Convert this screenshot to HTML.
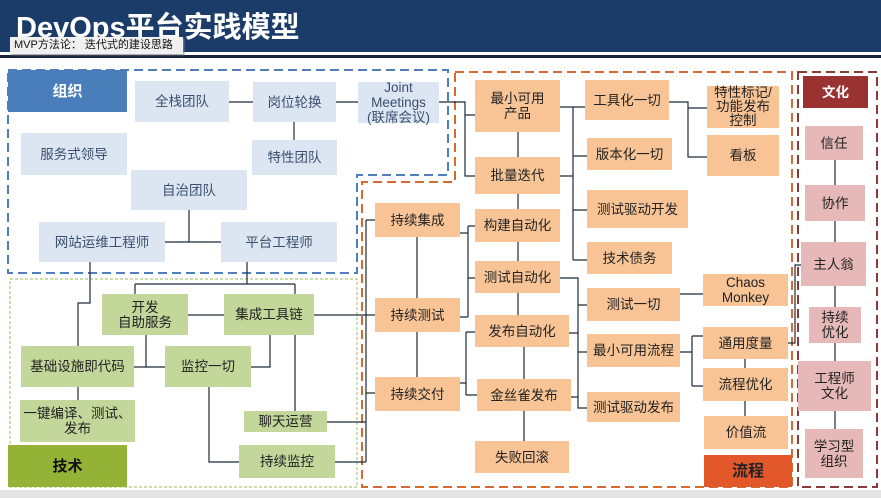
<!DOCTYPE html>
<html><head><meta charset="utf-8"><style>
*{margin:0;padding:0;box-sizing:border-box}
body{width:881px;height:498px;position:relative;background:#fff;overflow:hidden;font-family:"Liberation Sans","Noto Sans CJK SC",sans-serif}
.b{position:absolute;display:flex;align-items:center;justify-content:center;text-align:center;font-size:13.5px;line-height:15px;color:#222}
.o{background:#f8c496}.l{background:#dce6f2;color:#3a4f6e}.g{background:#c4d79b}.p{background:#e6b9b8}
svg{position:absolute;left:0;top:0}
</style></head><body>
<div style="position:absolute;left:0;top:0;width:881px;height:52px;background:#1b3b68"></div>
<div style="position:absolute;left:0;top:55px;width:881px;height:3px;background:#152238"></div>
<div style="position:absolute;left:16px;top:10px;color:#fff;font-size:29px;font-weight:bold;line-height:36px;white-space:nowrap">DevOps平台实践模型</div>
<div style="position:absolute;left:10px;top:37px;width:173px;height:17px;background:#f0f0f0;font-size:11px;line-height:17px;padding-left:4px;color:#111;box-shadow:1px 1px 2px #888">MVP方法论：&nbsp;迭代式的建设思路</div>
<div style="position:absolute;left:0;top:490px;width:881px;height:8px;background:#e4e4e4"></div>

<svg width="881" height="498">
<g fill="none" stroke-width="2" stroke-dasharray="9,5">
<path d="M8 70H448V175H357V273H8Z" stroke="#4f7fbd"/>
<path d="M455 72H792V487H362V182H455Z" stroke="#d66a2e"/>
<path d="M798 72H877V487H798Z" stroke="#8b3a3a"/>
</g>
<path d="M10 279H357V487H10Z" fill="none" stroke="#9bbb59" stroke-width="1" stroke-dasharray="3,2"/>
<g fill="none" stroke="#1f2a3a" stroke-width="1.2">
<path d="M229 102H253M336 102H358M294 122V140M189 210V242M165 242H221"/>
<path d="M439 102H465V176H475M465 115H475"/>
<path d="M518 132V157M518 194V209M518 242V261M518 293V315M524 347V379M524 411V441"/>
<path d="M417 237V298M417 332V377"/>
<path d="M460 233H468M468 226V317M468 226H475M468 278H475M460 317H468"/>
<path d="M460 383H466M466 332V395M466 332H475M466 395H477"/>
<path d="M560 107H585M573 107V260M560 176H573M573 156H587M573 210H587M573 260H587"/>
<path d="M669 102H688V157H707M688 108H707"/>
<path d="M560 278H578V408H587M578 305H587M578 352H587M569 333H578M571 397H578"/>
<path d="M680 294H703"/>
<path d="M680 352H692M692 336V386M692 336H703M692 386H703M745 359V368M745 401V416"/>
<path d="M788 343H795V265H801"/>
<path d="M835 160V185M835 221V242M835 286V307M835 343V361M835 411V429"/>
<path d="M90 262V303H78V346M78 387V400"/>
<path d="M247 262V284M135 284H295M135 284V294M295 284V294"/>
<path d="M188 315H224M314 315H375M146 335V367M134 367H165M270 335V367H251M295 335V411M209 387V462H239"/>
<path d="M327 422H366M335 462H366M366 220V462M366 220H375M366 393H375"/>
</g>
</svg>

<div class="b" style="left:8px;top:70px;width:119px;height:42px;background:#4a7ebb;color:#fff;font-weight:bold;font-size:15px">组织</div>
<div class="b l" style="left:135px;top:81px;width:94px;height:41px">全栈团队</div>
<div class="b l" style="left:253px;top:82px;width:83px;height:40px">岗位轮换</div>
<div class="b l" style="left:358px;top:82px;width:81px;height:41px">Joint<br>Meetings<br>(联席会议)</div>
<div class="b l" style="left:21px;top:133px;width:106px;height:42px">服务式领导</div>
<div class="b l" style="left:252px;top:140px;width:85px;height:35px">特性团队</div>
<div class="b l" style="left:131px;top:170px;width:116px;height:40px">自治团队</div>
<div class="b l" style="left:39px;top:222px;width:126px;height:40px">网站运维工程师</div>
<div class="b l" style="left:221px;top:222px;width:116px;height:40px">平台工程师</div>

<div class="b g" style="left:102px;top:294px;width:86px;height:41px">开发<br>自助服务</div>
<div class="b g" style="left:224px;top:294px;width:90px;height:41px">集成工具链</div>
<div class="b g" style="left:21px;top:346px;width:113px;height:41px">基础设施即代码</div>
<div class="b g" style="left:165px;top:346px;width:86px;height:41px">监控一切</div>
<div class="b g" style="left:20px;top:400px;width:115px;height:42px">一键编译、测试、<br>发布</div>
<div class="b g" style="left:244px;top:411px;width:83px;height:21px">聊天运营</div>
<div class="b g" style="left:239px;top:445px;width:96px;height:33px">持续监控</div>
<div class="b" style="left:8px;top:445px;width:119px;height:42px;background:#93b236;color:#111;font-weight:bold;font-size:15px">技术</div>

<div class="b o" style="left:375px;top:203px;width:85px;height:34px">持续集成</div>
<div class="b o" style="left:375px;top:298px;width:85px;height:34px">持续测试</div>
<div class="b o" style="left:375px;top:377px;width:85px;height:34px">持续交付</div>
<div class="b o" style="left:475px;top:80px;width:85px;height:52px">最小可用<br>产品</div>
<div class="b o" style="left:475px;top:157px;width:85px;height:37px">批量迭代</div>
<div class="b o" style="left:475px;top:209px;width:85px;height:33px">构建自动化</div>
<div class="b o" style="left:475px;top:261px;width:85px;height:32px">测试自动化</div>
<div class="b o" style="left:475px;top:315px;width:94px;height:32px">发布自动化</div>
<div class="b o" style="left:477px;top:379px;width:94px;height:32px">金丝雀发布</div>
<div class="b o" style="left:475px;top:441px;width:94px;height:32px">失败回滚</div>
<div class="b o" style="left:585px;top:80px;width:84px;height:40px">工具化一切</div>
<div class="b o" style="left:587px;top:138px;width:85px;height:32px">版本化一切</div>
<div class="b o" style="left:587px;top:190px;width:101px;height:38px">测试驱动开发</div>
<div class="b o" style="left:587px;top:242px;width:85px;height:32px">技术债务</div>
<div class="b o" style="left:587px;top:288px;width:93px;height:33px">测试一切</div>
<div class="b o" style="left:587px;top:334px;width:93px;height:33px">最小可用流程</div>
<div class="b o" style="left:587px;top:392px;width:93px;height:30px">测试驱动发布</div>
<div class="b o" style="left:707px;top:86px;width:72px;height:42px;line-height:14px">特性标记/<br>功能发布<br>控制</div>
<div class="b o" style="left:707px;top:135px;width:72px;height:41px">看板</div>
<div class="b o" style="left:703px;top:274px;width:85px;height:32px">Chaos<br>Monkey</div>
<div class="b o" style="left:703px;top:327px;width:85px;height:32px">通用度量</div>
<div class="b o" style="left:703px;top:368px;width:85px;height:33px">流程优化</div>
<div class="b o" style="left:704px;top:416px;width:84px;height:33px">价值流</div>
<div class="b" style="left:704px;top:455px;width:88px;height:32px;background:#e2582a;color:#222;font-weight:bold;font-size:16px">流程</div>

<div class="b" style="left:803px;top:76px;width:65px;height:32px;background:#9b3232;color:#fff;font-weight:bold">文化</div>
<div class="b p" style="left:805px;top:126px;width:58px;height:34px">信任</div>
<div class="b p" style="left:805px;top:185px;width:60px;height:36px">协作</div>
<div class="b p" style="left:801px;top:242px;width:65px;height:44px">主人翁</div>
<div class="b p" style="left:809px;top:307px;width:52px;height:36px">持续<br>优化</div>
<div class="b p" style="left:798px;top:361px;width:73px;height:50px">工程师<br>文化</div>
<div class="b p" style="left:805px;top:429px;width:58px;height:49px">学习型<br>组织</div>
</body></html>
